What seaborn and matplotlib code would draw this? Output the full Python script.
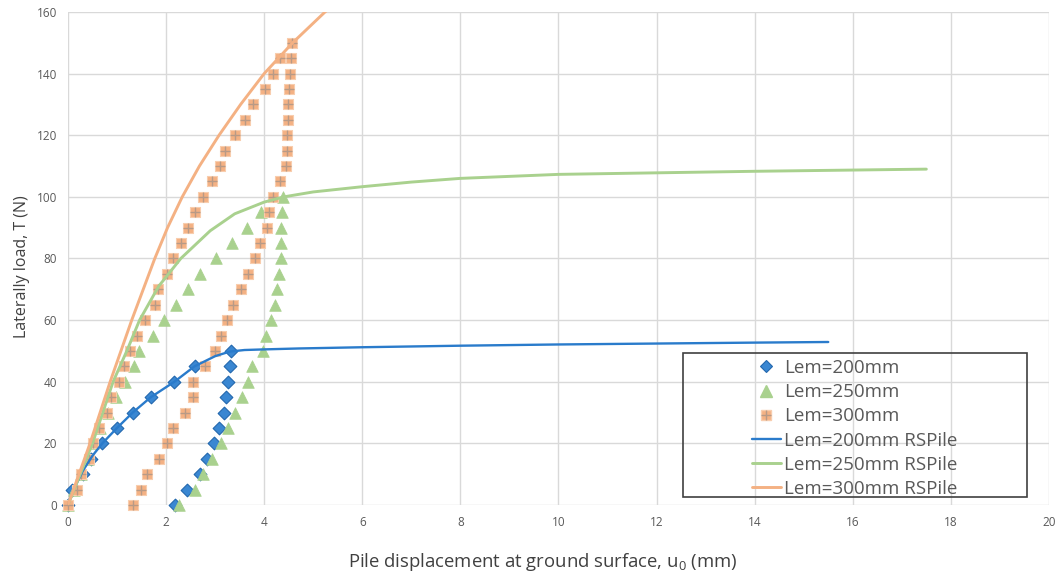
import numpy as np
import pandas as pd
import matplotlib
matplotlib.use("Agg")
import matplotlib.pyplot as plt
import seaborn as sns
from matplotlib.patches import Rectangle
from matplotlib.lines import Line2D
from matplotlib.legend_handler import HandlerTuple

# ---- measured load-displacement cycles (load up, then unload) ----
load_200 = [0, 5, 10, 15, 20, 25, 30, 35, 40, 45, 50,
            45, 40, 35, 30, 25, 20, 15, 10, 5, 0]
disp_200 = [0, 0.09, 0.30, 0.47, 0.70, 0.99, 1.32, 1.69, 2.17, 2.58, 3.33,
            3.31, 3.27, 3.23, 3.18, 3.08, 2.98, 2.83, 2.70, 2.43, 2.18]

load_250 = [0, 5, 10, 15, 20, 25, 30, 35, 40, 45, 50, 55, 60, 65, 70, 75, 80, 85, 90, 95, 100,
            95, 90, 85, 80, 75, 70, 65, 60, 55, 50, 45, 40, 35, 30, 25, 20, 15, 10, 5, 0]
disp_250 = [0, 0.13, 0.27, 0.40, 0.52, 0.66, 0.82, 0.98, 1.16, 1.35, 1.45, 1.73, 1.95, 2.20,
            2.45, 2.70, 3.01, 3.35, 3.65, 3.93, 4.39,
            4.36, 4.35, 4.35, 4.34, 4.31, 4.27, 4.23, 4.13, 4.04, 3.98, 3.75, 3.68, 3.54,
            3.41, 3.27, 3.12, 2.93, 2.76, 2.58, 2.27]

load_300 = [0, 5, 10, 15, 20, 25, 30, 35, 40, 45, 50, 55, 60, 65, 70, 75, 80, 85, 90, 95, 100,
            105, 110, 115, 120, 125, 130, 135, 140, 145, 150,
            145, 140, 135, 130, 125, 120, 115, 110, 105, 100, 95, 90, 85, 80, 75, 70, 65, 60,
            55, 50, 45, 40, 35, 30, 25, 20, 15, 10, 5, 0]
disp_300 = [0, 0.18, 0.26, 0.43, 0.52, 0.63, 0.79, 0.87, 1.04, 1.14, 1.26, 1.40, 1.58, 1.77,
            1.84, 2.01, 2.15, 2.30, 2.45, 2.60, 2.76, 2.94, 3.10, 3.20, 3.40, 3.61, 3.78, 4.02,
            4.19, 4.32, 4.56,
            4.54, 4.52, 4.51, 4.49, 4.49, 4.47, 4.47, 4.44, 4.33, 4.17, 4.09, 4.05, 3.92, 3.81,
            3.67, 3.52, 3.37, 3.25, 3.11, 3.00, 2.79, 2.54, 2.54, 2.39, 2.15, 2.01, 1.86, 1.62,
            1.48, 1.33]

# ---- RSPile computed response curves ----
rs200_x = [0, 0.1, 0.3, 0.5, 0.7, 1.0, 1.32, 1.69, 2.17, 2.58, 3.0, 3.3, 3.6, 4.0, 4.7,
           6, 8, 10, 12, 14, 15.5]
rs200_y = [0, 4.5, 11, 16, 20, 25, 30, 35, 40, 45, 48.3, 49.8, 50.3, 50.5, 50.8,
           51.2, 51.7, 52.1, 52.4, 52.7, 52.9]

rs250_x = [0, 0.25, 0.5, 0.92, 1.2, 1.46, 1.85, 2.3, 2.9, 3.4, 4.0, 4.4, 5.0, 6, 7, 8,
           10, 12, 14, 16, 17.5]
rs250_y = [0, 10, 20, 40, 50, 60, 71, 80, 89, 94.5, 98.3, 100, 101.6, 103.3, 104.8, 106,
           107.3, 107.8, 108.3, 108.7, 109.0]

rs300_x = [0, 0.45, 0.86, 1.3, 1.77, 2.03, 2.33, 2.68, 3.08, 3.52, 4.0, 4.58, 5.24, 5.32]
rs300_y = [0, 20, 40, 60, 80, 90, 100, 110, 120, 130, 140, 150, 160, 161]

x_ticks = list(range(0, 21, 2))
y_ticks = list(range(0, 161, 20))

labels = ["Lem=200mm", "Lem=250mm", "Lem=300mm",
          "Lem=200mm RSPile", "Lem=250mm RSPile", "Lem=300mm RSPile"]

# ---- style ----
sns.set_theme(style="white")
plt.rcParams["font.family"] = ["Open Sans", "DejaVu Sans"]
plt.rcParams["mathtext.fontset"] = "custom"
plt.rcParams["mathtext.rm"] = "Open Sans"
plt.rcParams["mathtext.it"] = "Open Sans:italic"

BLUE = "#2A7BCB"
BLUE_FILL = "#3A87D2"
BLUE_EDGE = "#2368AE"
GREEN = "#A9D18E"
ORANGE = "#F4B183"
PLUS = "#B89A86"
TXT = "#595959"
GRID = "#D9D9D9"

fig = plt.figure(figsize=(10.57, 5.79), dpi=100)
ax = fig.add_axes([0.0643, 0.1278, 0.9281, 0.8515])

# measured points
sns.scatterplot(x=disp_200, y=load_200, ax=ax, marker="D", s=42, color=BLUE_FILL,
                edgecolor=BLUE_EDGE, linewidth=0.8, zorder=3, clip_on=False, legend=False)
sns.scatterplot(x=disp_250, y=load_250, ax=ax, marker="^", s=70, color=GREEN,
                edgecolor=GREEN, linewidth=0.5, zorder=3, clip_on=False, legend=False)
sns.scatterplot(x=disp_300, y=load_300, ax=ax, marker="s", s=62, color=ORANGE,
                edgecolor="#F8CDAE", linewidth=0.8, zorder=3, clip_on=False, legend=False)
sns.scatterplot(x=disp_300, y=load_300, ax=ax, marker="+", s=50, color=PLUS,
                linewidth=1.0, zorder=3.1, clip_on=False, legend=False)

# RSPile curves
sns.lineplot(x=rs200_x, y=rs200_y, ax=ax, color=BLUE, lw=1.7, sort=False,
             estimator=None, zorder=4)
sns.lineplot(x=rs250_x, y=rs250_y, ax=ax, color=GREEN, lw=2.1, sort=False,
             estimator=None, zorder=4)
sns.lineplot(x=rs300_x, y=rs300_y, ax=ax, color=ORANGE, lw=2.1, sort=False,
             estimator=None, zorder=4)

ax.set_xlim(0, 20)
ax.set_ylim(0, 160)
ax.set_xticks(x_ticks)
ax.set_yticks(y_ticks)
ax.grid(True, color=GRID, lw=1.0)
ax.set_axisbelow(True)
for sp in ax.spines.values():
    sp.set_visible(False)
ax.tick_params(axis="both", length=0, labelsize=8.5, labelcolor=TXT)
ax.tick_params(axis="y", pad=8)
ax.tick_params(axis="x", pad=8)
ax.set_xlabel("")
ax.set_ylabel("")

fig.text(543 / 1057, (579 - 562) / 579,
         r"Pile displacement at ground surface, u$_{\mathregular{0}}$ (mm)",
         ha="center", va="center", fontsize=13.3, color="#404040")
fig.text(22 / 1057, (579 - 267) / 579, "Laterally load, T (N)", rotation=90,
         ha="center", va="center", fontsize=11.5, color="#404040")

# legend
h_d = Line2D([], [], ls="none", marker="D", ms=6, mfc=BLUE_FILL, mec=BLUE_EDGE, mew=0.8)
h_t = Line2D([], [], ls="none", marker="^", ms=8, mfc=GREEN, mec=GREEN)
h_s = Line2D([], [], ls="none", marker="s", ms=7, mfc=ORANGE, mec="#F8CDAE")
h_p = Line2D([], [], ls="none", marker="+", ms=6.5, mec=PLUS, mew=1.0)
h_l1 = Line2D([], [], color=BLUE, lw=1.7)
h_l2 = Line2D([], [], color=GREEN, lw=2.1)
h_l3 = Line2D([], [], color=ORANGE, lw=2.1)

leg = ax.legend([h_d, h_t, (h_s, h_p), h_l1, h_l2, h_l3], labels,
                handler_map={tuple: HandlerTuple(ndivide=1)},
                loc="upper left", bbox_to_anchor=((752 - 68) / 981, (505 - 359) / 493),
                frameon=False, fontsize=13.5, labelcolor=TXT, handlelength=1.55,
                handletextpad=0.15, labelspacing=0.33, borderpad=0, borderaxespad=0)
leg.set_zorder(6)

ax.add_patch(Rectangle(((683 - 68) / 981, (505 - 497) / 493),
                       (1027 - 683) / 981, (497 - 353) / 493,
                       transform=ax.transAxes, fill=False, edgecolor="#404040",
                       lw=1.2, zorder=5, clip_on=False))

fig.savefig("out.png", dpi=100)
